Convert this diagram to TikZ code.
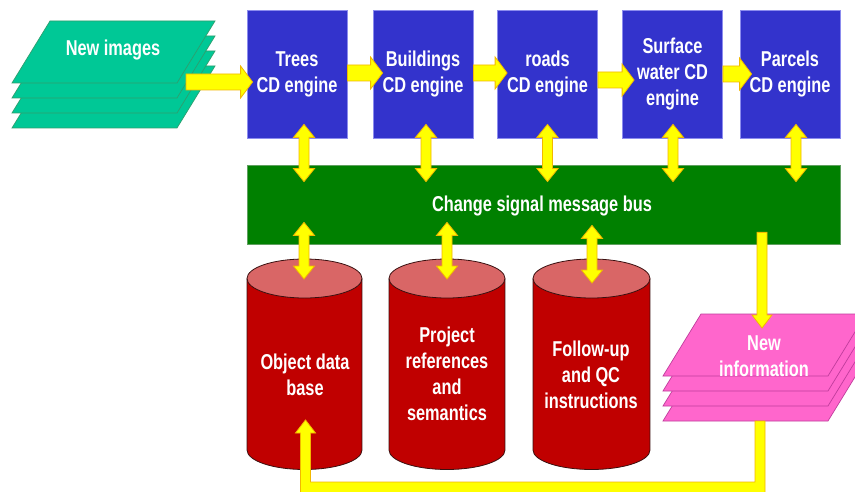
\documentclass[tikz,border=0pt]{standalone}
\usepackage{fontspec}
\setmainfont{Liberation Sans}[FakeStretch=0.76]
\usetikzlibrary{calc}
\definecolor{boxblue}{HTML}{3333CC}
\definecolor{boxedge}{HTML}{8C8CEE}
\definecolor{busgreen}{HTML}{008000}
\definecolor{busedge}{HTML}{5FA05F}
\definecolor{imggreen}{HTML}{00C896}
\definecolor{imgedge}{HTML}{2E9E6E}
\definecolor{infomag}{HTML}{FF66CC}
\definecolor{infoedge}{HTML}{C03C9C}
\definecolor{cylbody}{HTML}{C00000}
\definecolor{cyltop}{HTML}{D96666}
\definecolor{cyledge}{HTML}{3A1010}
\definecolor{arryellow}{HTML}{FFFF00}
\definecolor{arredge}{HTML}{F2B800}
\newcommand\labfont{\bfseries\fontsize{21.5}{26}\selectfont}
% single arrow: start, end, shaft half width, head half width, head length
\newcommand\sarrow[5]{\draw[yarrow] let \p1=(#1), \p2=(#2),
  \n1={atan2(\y2-\y1,\x2-\x1)}, \n2={veclen(\x2-\x1,\y2-\y1)}, \n3={\n2-#5} in
  [shift={(\p1)}, rotate=\n1] (0,-#3) -- (\n3,-#3) -- (\n3,-#4) -- (\n2,0)
  -- (\n3,#4) -- (\n3,#3) -- (0,#3) -- cycle;}
% double arrow
\newcommand\darrow[5]{\draw[yarrow] let \p1=(#1), \p2=(#2),
  \n1={atan2(\y2-\y1,\x2-\x1)}, \n2={veclen(\x2-\x1,\y2-\y1)}, \n3={\n2-#5} in
  [shift={(\p1)}, rotate=\n1] (0,0) -- (#5,-#4) -- (#5,-#3) -- (\n3,-#3) -- (\n3,-#4) -- (\n2,0)
  -- (\n3,#4) -- (\n3,#3) -- (#5,#3) -- (#5,#4) -- cycle;}
% parallelogram layer: bottom-left x, top y, style
\newcommand\layer[3]{\filldraw[#3] (#1+38,#2) -- (#1+203,#2) -- (#1+165,#2+62) -- (#1,#2+62) -- cycle;}
% cylinder: centre x, half width
\newcommand\cyl[2]{%
  \fill[cylbody] (#1-#2,278.5) rectangle (#1+#2,450);
  \fill[cylbody] (#1,450) ellipse[x radius=#2pt, y radius=19.5pt];
  \fill[cyltop] (#1,278.5) ellipse[x radius=#2pt, y radius=19.5pt];
  \draw[cyledge, line width=0.8pt] (#1-#2,278.5) -- (#1-#2,450)
     arc[start angle=180, end angle=360, x radius=#2pt, y radius=19.5pt] -- (#1+#2,278.5);
  \draw[cyledge, line width=0.8pt] (#1,278.5) ellipse[x radius=#2pt, y radius=19.5pt];}
\begin{document}
\begin{tikzpicture}[x=1pt, y=-1pt,
  engine/.style={fill=boxblue, draw=boxedge, line width=0.8pt, minimum width=100pt,
     minimum height=128pt, inner sep=0pt, text=white, align=center, font=\labfont},
  txt/.style={text=white, align=center, font=\labfont, inner sep=0pt},
  yarrow/.style={fill=arryellow, draw=arredge, line width=0.8pt, line join=miter},
  imglayer/.style={fill=imggreen, draw=imgedge, line width=0.7pt},
  infolayer/.style={fill=infomag, draw=infoedge, line width=0.7pt}]
\useasboundingbox (0,0) rectangle (855,492);
\clip (0,0) rectangle (855,492);
\fill[white] (0,0) rectangle (855,492);

% engines
\node[engine] (trees) at (297,74) {Trees\\CD engine};
\node[engine] (build) at (423,74) {Buildings\\CD engine};
\node[engine] (roads) at (547.5,74) {roads\\CD engine};
\node[engine] (surf)  at (672.5,74) {Surface\\water CD\\engine};
\node[engine] (parc)  at (790,74) {Parcels\\CD engine};

% bus
\node[fill=busgreen, draw=busedge, line width=0.8pt, minimum width=593pt, minimum height=79pt,
      inner sep=0pt, text=white, font=\labfont] (bus) at (543.5,204.5) {};
\node[txt] (bustext) at (542,206) {Change signal message bus};

% new images stack
\layer{12}{66}{imglayer}
\layer{12}{51}{imglayer}
\layer{12}{36}{imglayer}
\layer{12}{21}{imglayer}
\node[txt] (newimg) at (113,50) {New images};

% databases
\cyl{304.5}{57.5}
\cyl{447}{58}
\cyl{591.5}{58.5}
\node[txt] (odb)  at (305,375) {Object data\\base};
\node[txt] (proj) at (447,374) {Project\\references\\and\\semantics};
\node[txt] (qc)   at (591,375) {Follow-up\\and QC\\instructions};

% new information stack
\layer{663}{359}{infolayer}
\layer{663}{344}{infolayer}
\layer{663}{329}{infolayer}
\layer{663}{314}{infolayer}
\node[txt] (newinfo) at (764,356) {New\\information};
\coordinate (nib) at (760,421);
\coordinate (odbin) at (305.5,420);
\coordinate (imgout) at (186,82);

% horizontal flow arrows
\sarrow{imgout}{$(trees.west)+(6,8)$}{8}{16}{12}
\sarrow{$(trees.east)+(0,-1)$}{$(build.west)+(10,-1)$}{8}{16}{12}
\sarrow{$(build.east)+(0,-1)$}{$(roads.west)+(10,-1)$}{8}{16}{12}
\sarrow{$(roads.east)+(0,6)$}{$(surf.west)+(12,6)$}{8}{16}{12}
\sarrow{$(surf.east)+(0,0)$}{$(parc.west)+(12,0)$}{8}{16}{12}

% engines <-> bus
\darrow{$(trees.south)+(7,-14)$}{$(trees.south |- bus.north)+(7,17)$}{5}{10.5}{13}
\darrow{$(build.south)+(3,-14)$}{$(build.south |- bus.north)+(3,17)$}{5}{10.5}{13}
\darrow{$(roads.south)+(0,-14)$}{$(roads.south |- bus.north)+(0,17)$}{5}{10.5}{13}
\darrow{$(surf.south)+(0.5,-14)$}{$(surf.south |- bus.north)+(0.5,17)$}{5}{10.5}{13}
\darrow{$(parc.south)+(6,-14)$}{$(parc.south |- bus.north)+(6,17)$}{5}{10.5}{13}

% bus <-> databases
\darrow{$(bus.south -| odb)+(-1,-22)$}{$(odb)+(-1,-96)$}{5}{10.5}{13}
\darrow{$(bus.south -| proj)+(0,-22)$}{$(proj)+(0,-95)$}{5}{10.5}{13}
\darrow{$(bus.south -| qc)+(1,-19)$}{$(qc)+(1,-92)$}{5}{10.5}{13}

% bus -> new information
\sarrow{$(bus.south -| nib)+(2,-12)$}{$(nib)+(2,-93)$}{5}{10}{13}

% new information -> object data base (feedback loop)
\draw[yarrow] ($(nib)+(-5,0)$) -- ($(nib)+(-5,61)$) -| ($(odbin)+(5,13)$)
  -- ($(odbin)+(10,13)$) -- (odbin) -- ($(odbin)+(-10,13)$) -- ($(odbin)+(-5,13)$)
  |- ($(nib)+(5,72)$) -- ($(nib)+(5,0)$) -- cycle;
\end{tikzpicture}
\end{document}
